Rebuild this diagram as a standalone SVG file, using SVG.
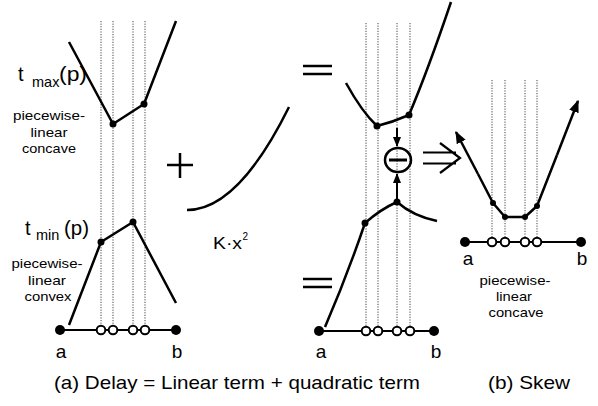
<svg xmlns="http://www.w3.org/2000/svg" width="598" height="406" viewBox="0 0 598 406">
<style>
.t{font-family:"Liberation Sans",Arial,sans-serif;fill:#000}
.c{fill:none;stroke:#000;stroke-width:2.5;stroke-linejoin:round;stroke-linecap:butt}
.d{stroke:#444;stroke-width:1;stroke-dasharray:1.2,1.4;fill:none}
.base{stroke:#000;stroke-width:1.8}
.dot{fill:#000}
.end{fill:#000}
.open{fill:#fff;stroke:#000;stroke-width:2}
.sym{stroke:#000;stroke-width:2.5;fill:none}
</style>
<defs>
<marker id="ah" viewBox="0 0 10 10" refX="9" refY="5" markerWidth="5" markerHeight="5" orient="auto" markerUnits="strokeWidth">
<path d="M0,1 L10,5 L0,9 z" fill="#000"/>
</marker>
</defs>

<g id="left-panel">
<g id="left-grid">
<line class="d" x1="101" y1="21" x2="101" y2="326"/>
<line class="d" x1="113" y1="21" x2="113" y2="326"/>
<line class="d" x1="133" y1="21" x2="133" y2="326"/>
<line class="d" x1="145" y1="21" x2="145" y2="326"/>
</g>
<g id="tmax">
<polyline class="c" points="69,42 113,124 144,104 176,21"/>
<circle class="dot" cx="113" cy="124" r="3.5"/>
<circle class="dot" cx="144" cy="104" r="3.5"/>
<text class="t" x="18" y="81" font-size="20">t</text>
<text class="t" x="32" y="87" font-size="14.5">max</text>
<text class="t" x="59" y="81" font-size="20" textLength="28" lengthAdjust="spacingAndGlyphs">(p)</text>
<text class="t" x="49" y="120" font-size="13.5" text-anchor="middle" textLength="72" lengthAdjust="spacingAndGlyphs">piecewise-</text>
<text class="t" x="49" y="137" font-size="13.5" text-anchor="middle" textLength="37" lengthAdjust="spacingAndGlyphs">linear</text>
<text class="t" x="49" y="153" font-size="13.5" text-anchor="middle" textLength="54" lengthAdjust="spacingAndGlyphs">concave</text>
</g>
<g id="tmin">
<polyline class="c" points="69,325 101,242 133,222 176,303"/>
<circle class="dot" cx="101" cy="242" r="3.5"/>
<circle class="dot" cx="133" cy="222" r="3.5"/>
<text class="t" x="25" y="235" font-size="20">t</text>
<text class="t" x="36" y="240" font-size="14.5">min</text>
<text class="t" x="64" y="235" font-size="20" textLength="25" lengthAdjust="spacingAndGlyphs">(p)</text>
<text class="t" x="47" y="268" font-size="13.5" text-anchor="middle" textLength="71" lengthAdjust="spacingAndGlyphs">piecewise-</text>
<text class="t" x="47" y="285" font-size="13.5" text-anchor="middle" textLength="38" lengthAdjust="spacingAndGlyphs">linear</text>
<text class="t" x="48" y="301" font-size="13.5" text-anchor="middle" textLength="47" lengthAdjust="spacingAndGlyphs">convex</text>
</g>
<g id="left-axis">
<line class="base" x1="60" y1="330" x2="176" y2="330"/>
<circle class="end" cx="60" cy="330" r="5"/>
<circle class="end" cx="176" cy="330" r="5"/>
<circle class="open" cx="101" cy="330" r="4.3"/>
<circle class="open" cx="113" cy="330" r="4.3"/>
<circle class="open" cx="133" cy="330" r="4.3"/>
<circle class="open" cx="145" cy="330" r="4.3"/>
<text class="t" x="61" y="358" font-size="19" text-anchor="middle">a</text>
<text class="t" x="177" y="358" font-size="19" text-anchor="middle">b</text>
</g>
</g>

<g id="plus">
<line class="sym" x1="167" y1="165" x2="193" y2="165"/>
<line class="sym" x1="180" y1="153" x2="180" y2="178"/>
</g>

<g id="quadratic">
<path class="c" d="M187,210 Q238,210 289,107"/>
<text class="t" x="213" y="249" font-size="17" textLength="29" lengthAdjust="spacingAndGlyphs">K·x</text>
<text class="t" x="242.5" y="240" font-size="10">2</text>
</g>

<g id="equals-top">
<line class="sym" x1="303" y1="66" x2="332" y2="66" stroke-width="3"/>
<line class="sym" x1="303" y1="74" x2="332" y2="74" stroke-width="3"/>
</g>
<g id="equals-bottom">
<line class="sym" x1="303" y1="279" x2="332" y2="279" stroke-width="3"/>
<line class="sym" x1="303" y1="287" x2="332" y2="287" stroke-width="3"/>
</g>

<g id="middle-panel">
<g id="middle-grid">
<line class="d" x1="366" y1="23" x2="366" y2="327"/>
<line class="d" x1="378" y1="23" x2="378" y2="327"/>
<line class="d" x1="397" y1="23" x2="397" y2="327"/>
<line class="d" x1="410" y1="23" x2="410" y2="327"/>
</g>
<g id="sum-max">
<path class="c" d="M346,83 Q362,112 377,126 Q393,122 409,115 Q428,70 451,2"/>
<circle class="dot" cx="377" cy="126" r="3.5"/>
<circle class="dot" cx="409" cy="115" r="3.5"/>
</g>
<g id="sum-min">
<path class="c" d="M325,327 Q347,276 365,223 Q381,209 397,202 Q413,216 437,221"/>
<circle class="dot" cx="365" cy="223" r="3.5"/>
<circle class="dot" cx="397" cy="202" r="3.5"/>
</g>
<g id="minus">
<ellipse cx="398" cy="160" rx="13" ry="12" fill="none" stroke="#000" stroke-width="2.5"/>
<line x1="389" y1="160" x2="407" y2="160" stroke="#000" stroke-width="3"/>
</g>
<g id="middle-axis">
<line class="base" x1="319" y1="331" x2="434" y2="331"/>
<circle class="end" cx="319" cy="331" r="5"/>
<circle class="end" cx="434" cy="331" r="5"/>
<circle class="open" cx="366" cy="331" r="4.3"/>
<circle class="open" cx="378" cy="331" r="4.3"/>
<circle class="open" cx="397" cy="331" r="4.3"/>
<circle class="open" cx="410" cy="331" r="4.3"/>
<text class="t" x="321" y="358" font-size="19" text-anchor="middle">a</text>
<text class="t" x="436" y="358" font-size="19" text-anchor="middle">b</text>
</g>
</g>

<g id="implies">
<path d="M423,152.5 H456 M423,163.5 H456 M440,143 L460,158 L440,173" fill="none" stroke="#000" stroke-width="2.2"/>
</g>

<g id="right-panel">
<g id="right-grid">
<line class="d" x1="492" y1="80" x2="492" y2="238"/>
<line class="d" x1="505" y1="80" x2="505" y2="238"/>
<line class="d" x1="525" y1="80" x2="525" y2="238"/>
<line class="d" x1="537" y1="80" x2="537" y2="238"/>
</g>
<g id="skew">
<polyline class="c" points="478,174 493,203 505,217 525,217 537,206 557,155"/>
<circle class="dot" cx="493" cy="203" r="3"/>
<circle class="dot" cx="505" cy="217" r="3"/>
<circle class="dot" cx="525" cy="217" r="3"/>
<circle class="dot" cx="537" cy="206" r="3"/>
</g>
<g id="right-axis">
<line class="base" x1="465" y1="242" x2="581" y2="242"/>
<circle class="end" cx="465" cy="242" r="5"/>
<circle class="end" cx="581" cy="242" r="5"/>
<circle class="open" cx="492" cy="242" r="4.3"/>
<circle class="open" cx="505" cy="242" r="4.3"/>
<circle class="open" cx="525" cy="242" r="4.3"/>
<circle class="open" cx="537" cy="242" r="4.3"/>
<text class="t" x="468" y="265" font-size="19" text-anchor="middle">a</text>
<text class="t" x="582" y="265" font-size="19" text-anchor="middle">b</text>
<text class="t" x="515" y="285" font-size="13.5" text-anchor="middle" textLength="71" lengthAdjust="spacingAndGlyphs">piecewise-</text>
<text class="t" x="514" y="301" font-size="13.5" text-anchor="middle" textLength="36" lengthAdjust="spacingAndGlyphs">linear</text>
<text class="t" x="516" y="317" font-size="13.5" text-anchor="middle" textLength="55" lengthAdjust="spacingAndGlyphs">concave</text>
</g>
</g>

<g id="connectors">
<line x1="397" y1="128" x2="397" y2="146" stroke="#000" stroke-width="2" marker-end="url(#ah)"/>
<line x1="397" y1="199" x2="397" y2="174" stroke="#000" stroke-width="2" marker-end="url(#ah)"/>
<path d="M478,174 L456,132" stroke="#000" stroke-width="2.5" fill="none" marker-end="url(#ah)"/>
<path d="M557,155 L578,101" stroke="#000" stroke-width="2.5" fill="none" marker-end="url(#ah)"/>
</g>

<g id="captions">
<text class="t" x="54" y="389" font-size="19" textLength="366" lengthAdjust="spacingAndGlyphs">(a) Delay = Linear term + quadratic term</text>
<text class="t" x="488" y="389" font-size="19" textLength="82" lengthAdjust="spacingAndGlyphs">(b) Skew</text>
</g>
</svg>
